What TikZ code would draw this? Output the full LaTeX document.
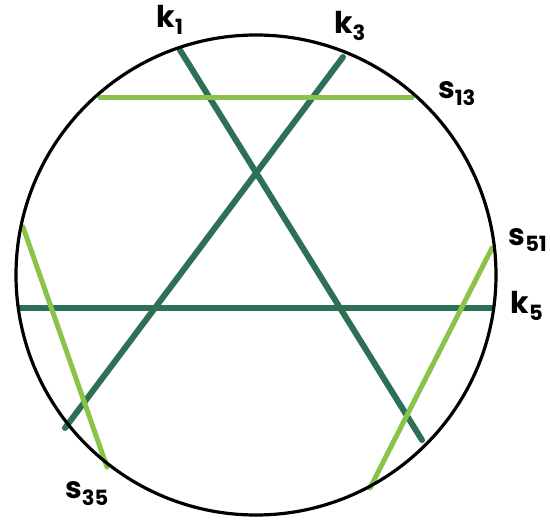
\documentclass[tikz,border=0pt]{standalone}
\usepackage{fontspec}
\setmainfont{Poppins}
\definecolor{darkg}{RGB}{46,112,86}
\definecolor{lightg}{RGB}{139,195,74}
\tikzset{
  kline/.style={draw=darkg, line width=6pt, line cap=round},
  sline/.style={draw=lightg, line width=5pt, line cap=round},
  lab/.style={font=\fontsize{30}{30}\selectfont\bfseries, inner sep=0pt},
}
\begin{document}
\begin{tikzpicture}[x=1pt,y=-1pt]
\useasboundingbox (0,0) rectangle (550,524);
% endpoints
\coordinate (k1a) at (180,50);
\coordinate (k1b) at (422,440);
\coordinate (k3a) at (343,57);
\coordinate (k3b) at (65,428);
\coordinate (k5a) at (17,308);
\coordinate (k5b) at (493,308);
\coordinate (s13a) at (100,98);
\coordinate (s13b) at (412,98);
\coordinate (s35a) at (23,227);
\coordinate (s35b) at (107,467);
\coordinate (s51a) at (492,248);
\coordinate (s51b) at (370,488);
% chords
\draw[kline] (k1a) -- (k1b);
\draw[kline] (k3a) -- (k3b);
\draw[kline, line cap=butt] (k5a) -- (k5b);
\draw[sline] (s13a) -- (s13b);
\draw[sline] (s35a) -- (s35b);
\draw[sline] (s51a) -- (s51b);
% circle
\draw[line width=3.2pt] (256,275) circle (240);
% labels
\node[lab] (Lk1) at (170,20) {k\textsubscript{1}};
\node[lab] (Lk3) at (350,26) {k\textsubscript{3}};
\node[lab] (Ls13) at (457,94) {s\textsubscript{13}};
\node[lab] (Ls51) at (528,240) {s\textsubscript{51}};
\node[lab] (Lk5) at (527,306) {k\textsubscript{5}};
\node[lab] (Ls35) at (87,494) {s\textsubscript{35}};
\end{tikzpicture}
\end{document}
